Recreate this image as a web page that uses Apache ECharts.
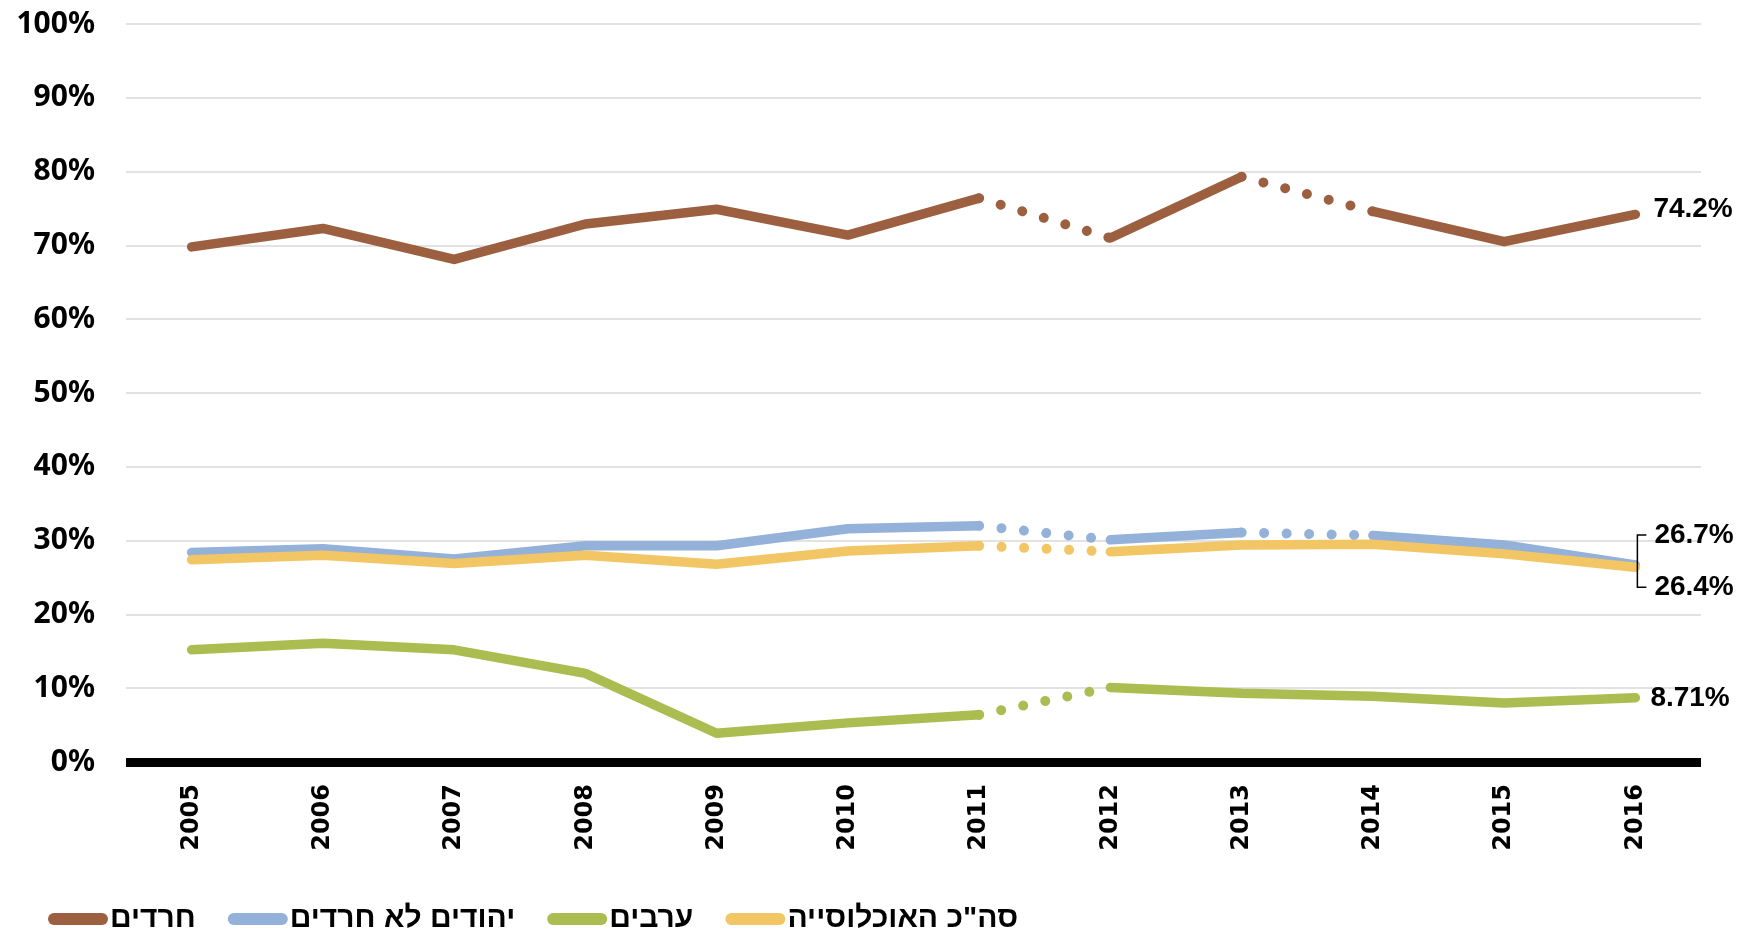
<!DOCTYPE html>
<html>
<head>
<meta charset="utf-8">
<script src="https://cdn.jsdelivr.net/npm/echarts@6/dist/echarts.min.js"></script>
<style>
html,body{margin:0;padding:0;background:#fff;}
#chart{width:1744px;height:931px;}
</style>
</head>
<body>
<div id="chart"></div>
<script>
const years = ['2005','2006','2007','2008','2009','2010','2011','2012','2013','2014','2015','2016'];
const haredim   = [69.8, 72.3, 68.1, 72.9, 74.9, 71.4, 76.4, 71.0, 79.3, 74.6, 70.5, 74.2];
const nonHaredi = [28.4, 28.9, 27.5, 29.3, 29.3, 31.6, 32.0, 30.1, 31.1, 30.7, 29.4, 26.7];
const arabs     = [15.2, 16.1, 15.2, 12.0, 3.9, 5.3, 6.4, 10.1, 9.3, 8.9, 8.0, 8.71];
const total     = [27.4, 28.0, 26.9, 28.0, 26.8, 28.6, 29.3, 28.5, 29.4, 29.5, 28.2, 26.4];
const seriesNames = ['חרדים', 'יהודים לא חרדים', 'ערבים', 'סה"כ האוכלוסייה'];
const endLabels = ['74.2%', '26.7%', '8.71%', '26.4%'];
const yTicks = [0,10,20,30,40,50,60,70,80,90,100];
// segment i -> i+1 drawn dotted
const dottedSegments = [[6, 8], [6, 8], [6], [6]];

const values = [haredim, nonHaredi, arabs, total];
const colors = ['#9C5F40', '#93B1D9', '#ABBC50', '#F2C664'];
const labelOffsets = [[3, -5], [4, -30], [0, 1], [4, 20]];

const series = [];
values.forEach((vals, s) => {
  const dots = dottedSegments[s];
  let runs = [];
  let cur = [0];
  for (let i = 0; i < vals.length - 1; i++) {
    if (dots.includes(i)) { runs.push(cur); cur = [i + 1]; }
    else cur.push(i + 1);
  }
  runs.push(cur);
  runs.forEach((run) => {
    const data = vals.map((v, i) => run.includes(i) ? v : null);
    const hasEnd = run.includes(vals.length - 1);
    series.push({
      name: seriesNames[s], type: 'line', data: data, color: colors[s],
      symbol: 'none', connectNulls: false, z: 2 + s, animation: false,
      lineStyle: { width: 9.5, color: colors[s], cap: 'round', join: 'round' },
      endLabel: {
        show: hasEnd, formatter: endLabels[s], distance: 15,
        offset: labelOffsets[s],
        color: '#000', fontFamily: '"Liberation Sans", sans-serif',
        fontWeight: 'bold', fontSize: 28
      }
    });
  });
  dots.forEach((i) => {
    const data = vals.map((v, j) => (j === i || j === i + 1) ? v : null);
    series.push({
      name: seriesNames[s], type: 'line', data: data, color: colors[s],
      symbol: 'none', connectNulls: false, z: 2 + s, animation: false,
      lineStyle: { width: 10, color: colors[s], type: [0.01, 22.5], cap: 'round' }
    });
  });
});

const chart = echarts.init(document.getElementById('chart'), null, { renderer: 'canvas' });
const option = {
  animation: false,
  backgroundColor: '#fff',
  grid: { left: 126, right: 43, top: 24, bottom: 169, containLabel: false },
  xAxis: {
    type: 'category', data: years, boundaryGap: true,
    axisLine: { show: true, onZero: true, lineStyle: { color: '#000', width: 9, cap: 'butt' } },
    axisTick: { show: false },
    axisLabel: {
      rotate: 90, margin: 22, color: '#000',
      fontFamily: '"DejaVu Sans", sans-serif', fontWeight: 'bold', fontSize: 24
    },
    splitLine: { show: false }
  },
  yAxis: {
    type: 'value', min: 0, max: 100, interval: 10,
    axisLine: { show: false }, axisTick: { show: false },
    axisLabel: {
      formatter: (v) => yTicks.includes(v) ? v + '%' : '',
      margin: 31, color: '#000',
      fontFamily: '"Noto Sans", sans-serif', fontWeight: 'bold', fontSize: 30
    },
    splitLine: { lineStyle: { color: '#D9D9D9', width: 1.5 } }
  },
  legend: {
    data: seriesNames,
    left: 43, top: 895, orient: 'horizontal',
    itemGap: 32, itemWidth: 60, itemHeight: 12,
    icon: 'path://M6,0H54A6,6,0,0,1,54,12H6A6,6,0,0,1,6,0Z',
    textStyle: {
      color: '#000', fontFamily: '"Liberation Sans", sans-serif',
      fontWeight: 'bold', fontSize: 30, lineHeight: 38, padding: [0, 0, 0, -3]
    }
  },
  series: series
};
chart.setOption(option);

// bracket joining the two close end labels
function drawBracket() {
  const last = years.length - 1;
  const pA = chart.convertToPixel({ gridIndex: 0 }, [last, nonHaredi[last]]);
  const pB = chart.convertToPixel({ gridIndex: 0 }, [last, total[last]]);
  const x = pA[0] + 2;
  const yTop = pA[1] + labelOffsets[1][1];
  const yBot = pB[1] + labelOffsets[3][1];
  chart.setOption({
    graphic: [{
      type: 'polyline', z: 100, silent: true,
      shape: { points: [[x + 9, yTop], [x, yTop], [x, yBot], [x + 9, yBot]] },
      style: { stroke: '#000', lineWidth: 1.5, fill: null }
    }]
  });
}
drawBracket();
</script>
</body>
</html>
